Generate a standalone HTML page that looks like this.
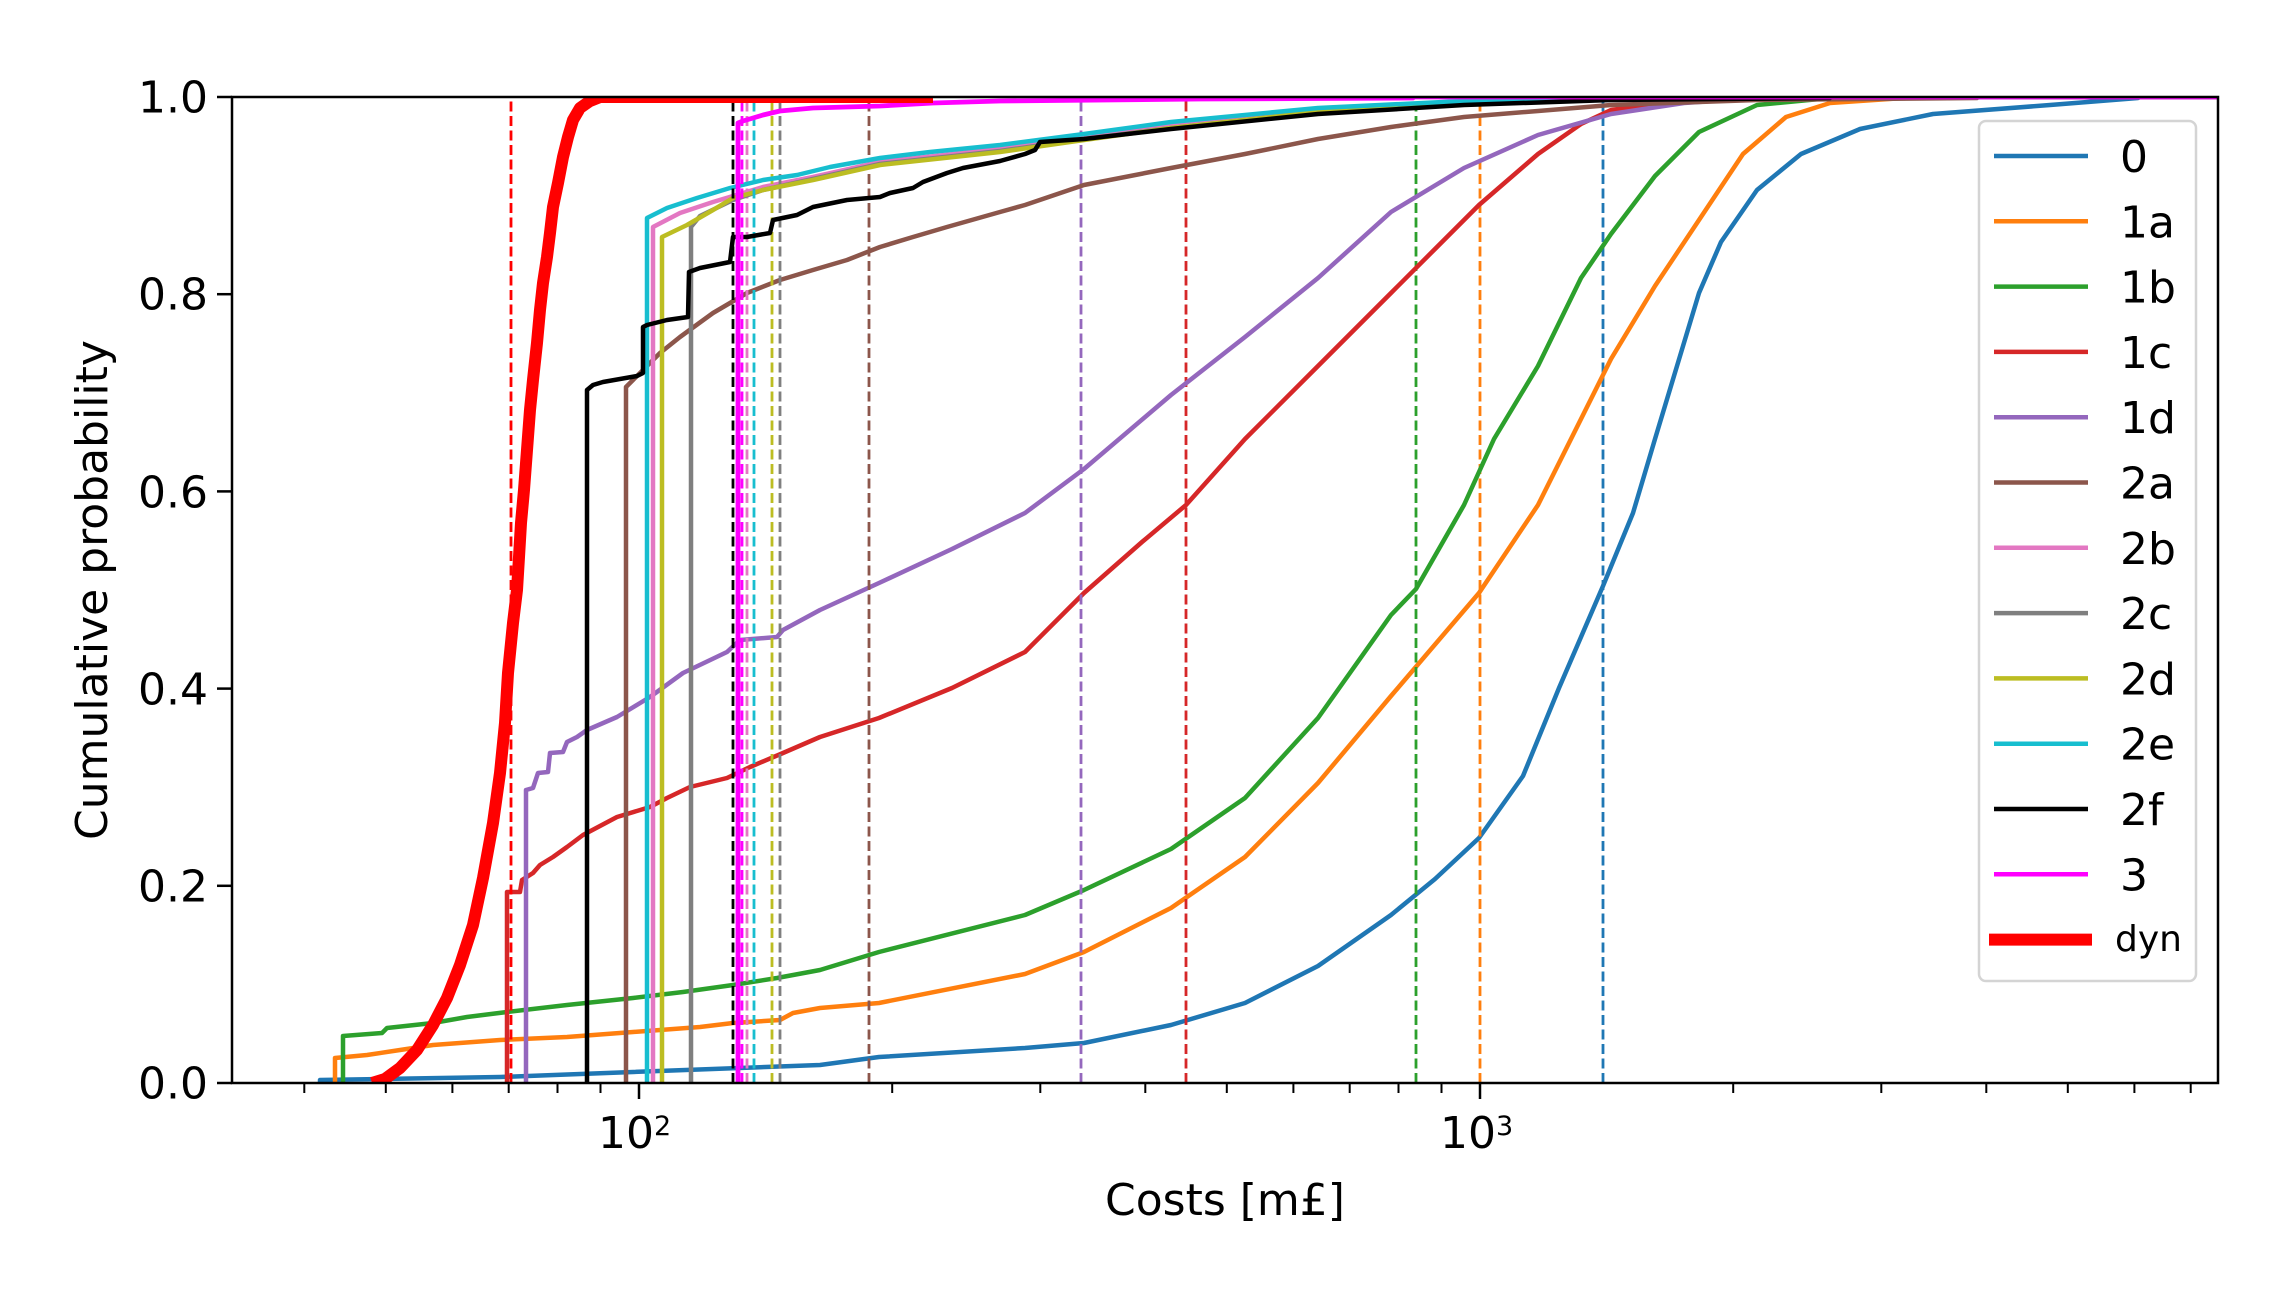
<!DOCTYPE html>
<html><head><meta charset="utf-8"><style>
html,body{margin:0;padding:0;background:#fff;}
svg{display:block;}
text{font-family:"DejaVu Sans","Liberation Sans",sans-serif;fill:#000;}
</style></head><body>
<svg width="2296" height="1292" viewBox="0 0 2296 1292" xmlns="http://www.w3.org/2000/svg">
<defs><clipPath id="ax"><rect x="232" y="97" width="1986" height="986"/></clipPath></defs>
<rect width="2296" height="1292" fill="#fff"/>
<g clip-path="url(#ax)" fill="none" stroke-linejoin="round">
<!-- 0 -->
<polyline stroke="#1f77b4" stroke-width="4.5" points="320,1083 320,1080 500,1077 633,1072 820,1065 879,1057 1025,1048 1084,1043 1171,1025 1245,1003 1318,966 1391,915 1435,879 1479,838 1523,776 1559,688 1603,586 1633,513 1655,439 1677,366 1699,293 1721,242 1757,190 1801,154 1860,129 1933,114 2050,105 2138,98 2138,97 2218,97"/>
<line x1="1603" y1="1083" x2="1603" y2="97" stroke="#1f77b4" stroke-width="2.8" stroke-dasharray="10 4.5"/>
<!-- 1a -->
<polyline stroke="#ff7f0e" stroke-width="4.5" points="335,1083 335,1058 367,1055 400,1050 433,1045 500,1040 567,1037 633,1032 700,1027 733,1023 780,1020 793,1013 820,1008 879,1003 1025,974 1084,952 1171,908 1245,857 1318,783 1391,696 1479,593 1538,505 1611,359 1655,286 1699,220 1743,154 1786,117 1830,103 1904,98 1904,97 2218,97"/>
<line x1="1480" y1="1083" x2="1480" y2="97" stroke="#ff7f0e" stroke-width="2.8" stroke-dasharray="10 4.5"/>
<!-- 1b -->
<polyline stroke="#2ca02c" stroke-width="4.5" points="343,1083 343,1036 382,1033 387,1028 433,1023 467,1017 507,1012 567,1005 633,998 683,992 733,985 777,978 820,970 879,952 1025,915 1084,890 1171,849 1245,798 1318,718 1391,615 1416,589 1464,505 1494,439 1538,366 1581,278 1611,234 1655,176 1699,132 1757,105 1830,98 1830,97 2218,97"/>
<line x1="1416" y1="1083" x2="1416" y2="97" stroke="#2ca02c" stroke-width="2.8" stroke-dasharray="10 4.5"/>
<!-- 1c -->
<polyline stroke="#d62728" stroke-width="4.5" points="507,1083 507,892 520,892 522,880 533,873 540,865 553,857 567,847 583,835 617,817 650,807 667,798 690,787 727,778 750,767 783,753 820,737 879,718 952,688 1025,652 1084,593 1142,542 1186,505 1245,439 1318,366 1391,293 1435,249 1479,205 1538,154 1581,124 1611,110 1684,100 1757,98 1757,97 2218,97"/>
<line x1="1186" y1="1083" x2="1186" y2="97" stroke="#d62728" stroke-width="2.8" stroke-dasharray="10 4.5"/>
<!-- 1d -->
<polyline stroke="#9467bd" stroke-width="4.5" points="526,1083 526,790 533,788 538,773 548,772 550,753 563,752 567,742 577,737 587,730 617,717 650,697 683,673 727,652 740,640 777,637 783,630 820,610 879,583 952,549 1025,513 1084,469 1171,395 1245,337 1318,278 1391,212 1464,168 1538,135 1611,114 1684,103 1757,98 1757,97 2218,97"/>
<line x1="1081" y1="1083" x2="1081" y2="97" stroke="#9467bd" stroke-width="2.8" stroke-dasharray="10 4.5"/>
<!-- 2a -->
<polyline stroke="#8c564b" stroke-width="4.5" points="626,1083 626,387 633,380 645,368 660,353 680,337 713,313 747,293 780,280 813,270 847,260 880,247 913,237 947,227 1000,212 1025,205 1084,185 1171,168 1245,154 1318,139 1391,127 1464,117 1538,111 1611,105 1757,100 1977,98 1977,97 2218,97"/>
<line x1="869" y1="1083" x2="869" y2="97" stroke="#8c564b" stroke-width="2.8" stroke-dasharray="10 4.5"/>
<!-- 2b -->
<polyline stroke="#e377c2" stroke-width="4.5" points="653,1083 653,227 680,213 713,202 733,196 763,187 813,177 880,162 1000,149 1084,137 1171,126 1318,110 1464,102 1611,98 1611,97 2218,97"/>
<line x1="747" y1="1083" x2="747" y2="97" stroke="#e377c2" stroke-width="2.8" stroke-dasharray="10 4.5"/>
<!-- 2c -->
<polyline stroke="#7f7f7f" stroke-width="4.5" points="691,1083 691,227 700,216 733,200 763,190 813,179 880,164 1000,151 1084,139 1171,128 1318,112 1464,103 1611,98 1611,97 2218,97"/>
<line x1="780" y1="1083" x2="780" y2="97" stroke="#7f7f7f" stroke-width="2.8" stroke-dasharray="10 4.5"/>
<!-- 2d -->
<polyline stroke="#bcbd22" stroke-width="4.5" points="662,1083 662,237 687,225 713,210 733,198 763,190 813,180 880,165 1000,152 1084,140 1171,128 1318,112 1464,103 1611,98 1611,97 2218,97"/>
<line x1="772" y1="1083" x2="772" y2="97" stroke="#bcbd22" stroke-width="2.8" stroke-dasharray="10 4.5"/>
<!-- 2e -->
<polyline stroke="#17becf" stroke-width="4.5" points="647,1083 647,218 667,208 697,198 730,188 763,180 797,175 830,167 880,158 930,152 1000,145 1084,134 1171,122 1318,108 1464,101 1611,98 1611,97 2218,97"/>
<line x1="754" y1="1083" x2="754" y2="97" stroke="#17becf" stroke-width="2.8" stroke-dasharray="10 4.5"/>
<!-- 2f -->
<polyline stroke="#000000" stroke-width="4.5" points="587,1083 587,390 593,385 603,382 637,376 643,373 643,327 647,325 667,320 688,317 689,272 700,268 730,262 733,237 747,237 770,233 773,220 797,215 813,207 847,200 880,197 890,193 913,188 923,182 947,173 963,168 1000,161 1025,154 1035,150 1040,142 1084,139 1171,129 1318,114 1464,105 1611,100 1830,98 1830,97 2218,97"/>
<line x1="733" y1="1083" x2="733" y2="97" stroke="#000000" stroke-width="2.8" stroke-dasharray="10 4.5"/>
<!-- 3 -->
<polyline stroke="#ff00ff" stroke-width="4.8" points="738,1083 738,123 743,121 763,115 780,111 813,108 880,106 933,103 1000,101 1200,99 1413,98 1413,97 2218,97"/>
<line x1="742" y1="1083" x2="742" y2="97" stroke="#ff00ff" stroke-width="2.8" stroke-dasharray="10 4.5"/>
<!-- dyn -->
<polyline stroke="#ff0000" stroke-width="12" points="372,1083 385,1079 400,1068 417,1050 433,1025 447,998 460,965 473,925 483,878 493,823 500,773 505,723 508,673 513,623 517,590 519,557 521,523 524,490 527,450 530,410 533,380 537,343 540,310 543,283 547,257 550,233 553,207 558,183 563,157 568,137 573,120 580,108 590,101 600,97 933,97"/>
<line x1="511" y1="1083" x2="511" y2="97" stroke="#ff0000" stroke-width="2.8" stroke-dasharray="10 4.5"/>
</g>
<!-- spines -->
<rect x="232" y="97" width="1986" height="986" fill="none" stroke="#000" stroke-width="2.5"/>
<!-- ticks -->
<g stroke="#000" stroke-width="2.5">
<line x1="217" y1="1083" x2="232" y2="1083"/>
<line x1="217" y1="885.8" x2="232" y2="885.8"/>
<line x1="217" y1="688.6" x2="232" y2="688.6"/>
<line x1="217" y1="491.4" x2="232" y2="491.4"/>
<line x1="217" y1="294.2" x2="232" y2="294.2"/>
<line x1="217" y1="97" x2="232" y2="97"/>
<line x1="639" y1="1083" x2="639" y2="1099"/>
<line x1="1480" y1="1083" x2="1480" y2="1099"/>
</g>
<g stroke="#000" stroke-width="2">
<line x1="304.3" y1="1083" x2="304.3" y2="1093"/>
<line x1="385.8" y1="1083" x2="385.8" y2="1093"/>
<line x1="452.4" y1="1083" x2="452.4" y2="1093"/>
<line x1="508.7" y1="1083" x2="508.7" y2="1093"/>
<line x1="557.5" y1="1083" x2="557.5" y2="1093"/>
<line x1="600.5" y1="1083" x2="600.5" y2="1093"/>
<line x1="892.2" y1="1083" x2="892.2" y2="1093"/>
<line x1="1040.3" y1="1083" x2="1040.3" y2="1093"/>
<line x1="1145.3" y1="1083" x2="1145.3" y2="1093"/>
<line x1="1226.8" y1="1083" x2="1226.8" y2="1093"/>
<line x1="1293.4" y1="1083" x2="1293.4" y2="1093"/>
<line x1="1349.7" y1="1083" x2="1349.7" y2="1093"/>
<line x1="1398.5" y1="1083" x2="1398.5" y2="1093"/>
<line x1="1441.5" y1="1083" x2="1441.5" y2="1093"/>
<line x1="1733.2" y1="1083" x2="1733.2" y2="1093"/>
<line x1="1881.3" y1="1083" x2="1881.3" y2="1093"/>
<line x1="1986.3" y1="1083" x2="1986.3" y2="1093"/>
<line x1="2067.8" y1="1083" x2="2067.8" y2="1093"/>
<line x1="2134.4" y1="1083" x2="2134.4" y2="1093"/>
<line x1="2190.7" y1="1083" x2="2190.7" y2="1093"/>
</g>
<!-- tick labels -->
<g font-size="44" text-anchor="end">
<text x="208" y="1098.5">0.0</text>
<text x="208" y="901.5">0.2</text>
<text x="208" y="704.5">0.4</text>
<text x="208" y="507.5">0.6</text>
<text x="208" y="309.5">0.8</text>
<text x="208" y="112.5">1.0</text>
</g>
<text x="598" y="1148" font-size="44">10<tspan font-size="27" dy="-13">2</tspan></text>
<text x="1440" y="1148" font-size="44">10<tspan font-size="27" dy="-13">3</tspan></text>
<text x="1225" y="1215" font-size="44" text-anchor="middle">Costs [m£]</text>
<text transform="translate(107,590) rotate(-90)" font-size="44" text-anchor="middle">Cumulative probability</text>
<!-- legend -->
<rect x="1979" y="121" width="217" height="860" rx="7" ry="7" fill="#fff" fill-opacity="0.85" stroke="#d4d4d4" stroke-width="2.5"/>
<g stroke-width="4.5">
<line x1="1994" y1="156" x2="2088" y2="156" stroke="#1f77b4"/>
<line x1="1994" y1="221.3" x2="2088" y2="221.3" stroke="#ff7f0e"/>
<line x1="1994" y1="286.6" x2="2088" y2="286.6" stroke="#2ca02c"/>
<line x1="1994" y1="351.9" x2="2088" y2="351.9" stroke="#d62728"/>
<line x1="1994" y1="417.2" x2="2088" y2="417.2" stroke="#9467bd"/>
<line x1="1994" y1="482.5" x2="2088" y2="482.5" stroke="#8c564b"/>
<line x1="1994" y1="547.8" x2="2088" y2="547.8" stroke="#e377c2"/>
<line x1="1994" y1="613.1" x2="2088" y2="613.1" stroke="#7f7f7f"/>
<line x1="1994" y1="678.4" x2="2088" y2="678.4" stroke="#bcbd22"/>
<line x1="1994" y1="743.7" x2="2088" y2="743.7" stroke="#17becf"/>
<line x1="1994" y1="809" x2="2088" y2="809" stroke="#000000"/>
<line x1="1994" y1="874.3" x2="2088" y2="874.3" stroke="#ff00ff"/>
</g>
<line x1="1989" y1="939.6" x2="2092" y2="939.6" stroke="#ff0000" stroke-width="12"/>
<g font-size="44">
<text x="2120" y="172">0</text>
<text x="2120" y="237.3">1a</text>
<text x="2120" y="302.6">1b</text>
<text x="2120" y="367.9">1c</text>
<text x="2120" y="433.2">1d</text>
<text x="2120" y="498.5">2a</text>
<text x="2120" y="563.8">2b</text>
<text x="2120" y="629.1">2c</text>
<text x="2120" y="694.4">2d</text>
<text x="2120" y="759.7">2e</text>
<text x="2120" y="825">2f</text>
<text x="2120" y="890.3">3</text>
</g>
<text x="2115" y="951" font-size="36">dyn</text>
</svg>
</body></html>
